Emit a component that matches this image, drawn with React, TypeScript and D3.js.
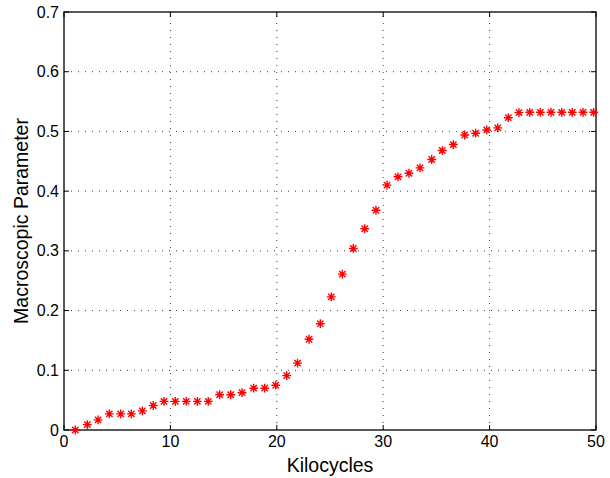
import React from "react";
import { scaleLinear, range } from "d3";

// values
const kilocycles = [
  1.06, 2.19, 3.2, 4.26, 5.33, 6.33, 7.36, 8.39, 9.4, 10.46, 11.49, 12.53,
  13.56, 14.63, 15.67, 16.73, 17.83, 18.86, 19.9, 20.93, 21.95, 23.03, 24.09,
  25.12, 26.16, 27.19, 28.26, 29.32, 30.36, 31.39, 32.42, 33.46, 34.56, 35.55,
  36.59, 37.66, 38.69, 39.73, 40.76, 41.76, 42.76, 43.77, 44.77, 45.77, 46.78,
  47.77, 48.78, 49.78,
];
const macroParam = [
  0.0, 0.009, 0.017, 0.027, 0.027, 0.027, 0.032, 0.041, 0.048, 0.048, 0.048,
  0.048, 0.048, 0.059, 0.059, 0.0625, 0.07, 0.07, 0.075, 0.091, 0.112, 0.152,
  0.178, 0.223, 0.261, 0.304, 0.337, 0.368, 0.41, 0.424, 0.43, 0.439, 0.453,
  0.468, 0.478, 0.494, 0.497, 0.5025, 0.506, 0.523, 0.5315, 0.532, 0.532,
  0.532, 0.532, 0.532, 0.532, 0.532,
];
const xTicks = [0, 10, 20, 30, 40, 50];
const yTicks = [0, 0.1, 0.2, 0.3, 0.4, 0.5, 0.6, 0.7];

const width = 610;
const height = 478;
const margin = { left: 64, right: 14, top: 12, bottom: 48 };
const font = "'Liberation Sans', Arial, Helvetica, sans-serif";

function star(r: number) {
  const d = r * 0.72;
  return `M${-r},0L${r},0M0,${-r}L0,${r}M${-d},${-d}L${d},${d}M${-d},${d}L${d},${-d}`;
}

export default function App() {
  const x = scaleLinear()
    .domain([0, 50])
    .range([margin.left, width - margin.right]);
  const y = scaleLinear()
    .domain([0, 0.7])
    .range([height - margin.bottom, margin.top]);

  const [x0, x1] = x.range();
  const [y0, y1] = y.range();
  const tick = 5;

  return (
    <svg
      width={width}
      height={height}
      style={{ position: "absolute", left: 0, top: 0, background: "#fff" }}
    >
      <rect width={width} height={height} fill="#fff" />
      {/* grid */}
      <g stroke="#000" strokeWidth={1} strokeDasharray="1,6" opacity={0.75}>
        {xTicks.slice(1, -1).map((t) => (
          <line key={"gx" + t} x1={x(t)} x2={x(t)} y1={y0} y2={y1} />
        ))}
        {yTicks.slice(1, -1).map((t) => (
          <line key={"gy" + t} x1={x0} x2={x1} y1={y(t)} y2={y(t)} />
        ))}
      </g>
      {/* ticks */}
      <g stroke="#000" strokeWidth={1}>
        {xTicks.map((t) => (
          <g key={"tx" + t}>
            <line x1={x(t)} x2={x(t)} y1={y0} y2={y0 - tick} />
            <line x1={x(t)} x2={x(t)} y1={y1} y2={y1 + tick} />
          </g>
        ))}
        {yTicks.map((t) => (
          <g key={"ty" + t}>
            <line x1={x0} x2={x0 + tick} y1={y(t)} y2={y(t)} />
            <line x1={x1} x2={x1 - tick} y1={y(t)} y2={y(t)} />
          </g>
        ))}
      </g>
      <rect
        x={x0}
        y={y1}
        width={x1 - x0}
        height={y0 - y1}
        fill="none"
        stroke="#000"
        strokeWidth={1.3}
      />
      {/* data */}
      <g stroke="#ff0000" strokeWidth={1.4} fill="none">
        {range(kilocycles.length).map((i) => (
          <path
            key={i}
            d={star(4.4)}
            transform={`translate(${x(kilocycles[i])},${y(macroParam[i])})`}
          />
        ))}
      </g>
      {/* tick labels */}
      <g fontFamily={font} fontSize={16} fill="#000">
        {xTicks.map((t) => (
          <text key={"lx" + t} x={x(t)} y={y0 + 17} textAnchor="middle">
            {t}
          </text>
        ))}
        {yTicks.map((t) => (
          <text
            key={"ly" + t}
            x={x0 - 5}
            y={y(t) + 5.5}
            textAnchor="end"
          >
            {t}
          </text>
        ))}
      </g>
      <text
        x={(x0 + x1) / 2}
        y={y0 + 42}
        textAnchor="middle"
        fontFamily={font}
        fontSize={19.5}
      >
        Kilocycles
      </text>
      <text
        transform={`translate(28,${(y0 + y1) / 2}) rotate(-90)`}
        textAnchor="middle"
        fontFamily={font}
        fontSize={19.5}
      >
        Macroscopic Parameter
      </text>
    </svg>
  );
}
